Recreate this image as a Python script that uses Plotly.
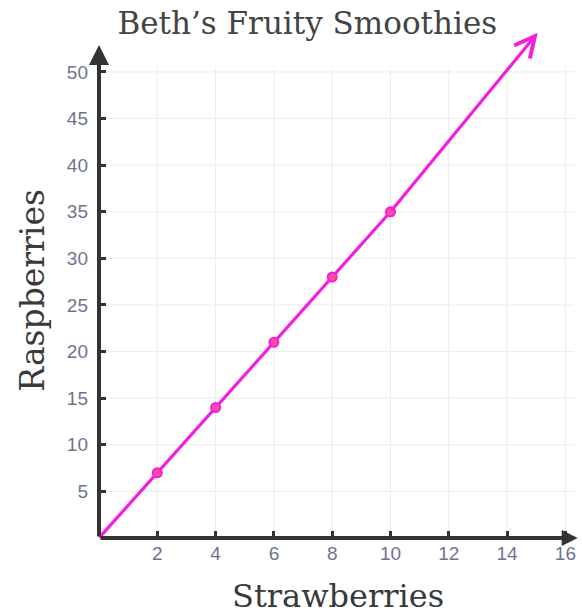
import plotly.graph_objects as go

# Data
strawberries = [0, 2, 4, 6, 8, 10, 15.05]
raspberries = [0, 7, 14, 21, 28, 35, 54.2]
point_x = [2, 4, 6, 8, 10]
point_y = [7, 14, 21, 28, 35]
x_ticks = [2, 4, 6, 8, 10, 12, 14, 16]
y_ticks = [5, 10, 15, 20, 25, 30, 35, 40, 45, 50]
x_axis_end = 16.42
y_axis_end = 52.9

title_text = "Beth\u2019s Fruity Smoothies"
x_title = "Strawberries"
y_title = "Raspberries"

MAG = "#f21ee0"
AX = "#333333"
TICKC = "#6f7392"
SERIF = "DejaVu Serif, Liberation Serif, serif"

fig = go.Figure()

# grid lines as faint shapes
shapes = []
for xv in x_ticks:
    shapes.append(dict(type="line", xref="x", yref="y", x0=xv, x1=xv, y0=0, y1=50.5,
                       line=dict(color="#ececec", width=1), layer="below"))
for yv in y_ticks:
    shapes.append(dict(type="line", xref="x", yref="y", x0=0, x1=16.3, y0=yv, y1=yv,
                       line=dict(color="#ececec", width=1), layer="below"))

fig.add_trace(go.Scatter(x=strawberries[:-1], y=raspberries[:-1], mode="lines",
                         line=dict(color=MAG, width=3.2), hoverinfo="skip",
                         showlegend=False))
fig.add_trace(go.Scatter(x=point_x, y=point_y, mode="markers",
                         marker=dict(size=9, color="#ff4fa0",
                                     line=dict(color=MAG, width=2)),
                         showlegend=False))

annotations = [
    # magenta line tail with open arrowhead
    dict(x=strawberries[-1], y=raspberries[-1], ax=strawberries[-2], ay=raspberries[-2],
         xref="x", yref="y", axref="x", ayref="y", text="", showarrow=True,
         arrowhead=5, arrowsize=1.25, arrowwidth=3.2, arrowcolor=MAG, standoff=0),
    # y axis with arrow
    dict(x=0, y=y_axis_end, ax=0, ay=0, xref="x", yref="y", axref="x", ayref="y",
         text="", showarrow=True, arrowhead=2, arrowsize=1.0, arrowwidth=4,
         arrowcolor=AX, standoff=0),
    # x axis with arrow
    dict(x=x_axis_end, y=0, ax=0, ay=0, xref="x", yref="y", axref="x", ayref="y",
         text="", showarrow=True, arrowhead=2, arrowsize=0.8, arrowwidth=4,
         arrowcolor=AX, standoff=0),
    dict(text=x_title, xref="paper", yref="paper", x=0.497, y=0, yshift=-58,
         xanchor="center", yanchor="middle", showarrow=False,
         font=dict(family=SERIF, size=32, color="#3a3a3a")),
    dict(text=y_title, xref="paper", yref="paper", x=-0.14, y=0.475,
         xanchor="center", yanchor="middle", textangle=-90, showarrow=False,
         font=dict(family=SERIF, size=33, color="#3a3a3a")),
]

fig.update_layout(
    width=582, height=615,
    margin=dict(l=99, r=2, t=16, b=77, autoexpand=False),
    paper_bgcolor="white", plot_bgcolor="white",
    title=dict(text=title_text, x=0.528, xref="container", xanchor="center",
               y=1 - 23 / 615, yref="container", yanchor="middle",
               font=dict(family=SERIF, size=31, color="#444444")),
    shapes=shapes,
    annotations=annotations,
    xaxis=dict(range=[0, 16.5], tickvals=x_ticks, ticktext=[str(v) for v in x_ticks],
               ticks="inside", ticklen=7, tickwidth=3, tickcolor=AX,
               showgrid=False, zeroline=False, showline=False, automargin=False,
               tickfont=dict(family="Liberation Sans, Arial, sans-serif", size=19, color=TICKC),
               ticklabelstandoff=2),
    yaxis=dict(range=[0, 56], tickvals=y_ticks, ticktext=[str(v) for v in y_ticks],
               ticks="inside", ticklen=7, tickwidth=3, tickcolor=AX,
               showgrid=False, zeroline=False, showline=False, automargin=False,
               tickfont=dict(family="Liberation Sans, Arial, sans-serif", size=19, color=TICKC),
               ticklabelstandoff=10),
)

fig.write_html("out.html", config={"displayModeBar": False},
               post_script="document.body.style.margin='0px';document.body.style.padding='0px';")
